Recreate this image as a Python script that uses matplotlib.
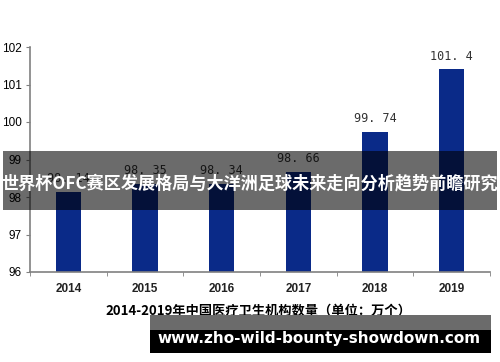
import matplotlib.pyplot as plt
import matplotlib.patches as patches

years = ['2014', '2015', '2016', '2017', '2018', '2019']
values = [98.14, 98.35, 98.34, 98.66, 99.74, 101.4]
value_labels = ['98.14', '98.35', '98.34', '98.66', '99.74', '101.4']
y_ticks = [96, 97, 98, 99, 100, 101, 102]

W, H = 500, 362
fig = plt.figure(figsize=(W / 100, H / 100), dpi=100)

# axes placed in pixels: left 30, right 490, top 47, bottom 272
ax = fig.add_axes([30 / W, 1 - 272 / H, 460 / W, 225 / H])
x = list(range(len(years)))
ax.bar(x, [v - 96 for v in values], bottom=96, width=0.33, color='#0a2a88', zorder=2)
ax.set_xlim(-0.5, 5.5)
ax.set_ylim(96, 102)
ax.set_yticks(y_ticks)
ax.set_yticklabels([str(t) for t in y_ticks], family='Liberation Sans', fontsize=8.5)
ax.set_xticks(x)
ax.set_xticklabels(years, family='Liberation Sans', fontsize=8.5, fontweight='bold', color='#222222')
ax.set_xticks([i - 0.5 for i in range(len(years) + 1)], minor=True)
ax.tick_params(axis='x', which='major', length=0, pad=8)
ax.tick_params(axis='x', which='minor', length=3, color='#808080')
ax.tick_params(axis='y', length=3, color='#808080', pad=3)
for s in ['top', 'right']:
    ax.spines[s].set_visible(False)
for s in ['left', 'bottom']:
    ax.spines[s].set_color('#808080')
    ax.spines[s].set_linewidth(1.2)

for xi, v, lab in zip(x, values, value_labels):
    ax.annotate(lab.replace('.', '. '), (xi, v), xytext=(0, 5), textcoords='offset points',
                ha='center', va='bottom', family='DejaVu Sans Mono', fontsize=8.5, color='#333333')

# title under the chart
fig.text(258 / W, 1 - 311 / H, '2014-2019年中国医疗卫生机构数量（单位：万个）',
         ha='center', va='center', family=['Noto Sans CJK SC', 'DejaVu Sans'],
         fontsize=9.5, fontweight='bold', color='black')

# banner across the chart
fig.add_artist(patches.Rectangle((3 / W, 1 - 210 / H), 494 / W, 59 / H,
                                 transform=fig.transFigure, color='black', alpha=0.58, lw=0, zorder=5))
fig.text(250 / W, 1 - 183 / H, '世界杯OFC赛区发展格局与大洋洲足球未来走向分析趋势前瞻研究',
         ha='center', va='center', family=['Noto Sans CJK SC', 'DejaVu Sans'],
         fontsize=12.3, fontweight='bold', color='white', zorder=6)

# url box at bottom
fig.add_artist(patches.Rectangle((150 / W, 1 - 330 / H), 341 / W, 15 / H,
                                 transform=fig.transFigure, color='#6b6b6b', lw=0, zorder=5))
fig.add_artist(patches.Rectangle((150 / W, 1 - 353 / H), 341 / W, 23 / H,
                                 transform=fig.transFigure, color='black', lw=0, zorder=5))
fig.text(319 / W, 1 - 338 / H, 'www.zho-wild-bounty-showdown.com',
         ha='center', va='center', family='DejaVu Sans', fontsize=11,
         fontweight='bold', color='white', zorder=6)

fig.savefig('out.png', dpi=100)
